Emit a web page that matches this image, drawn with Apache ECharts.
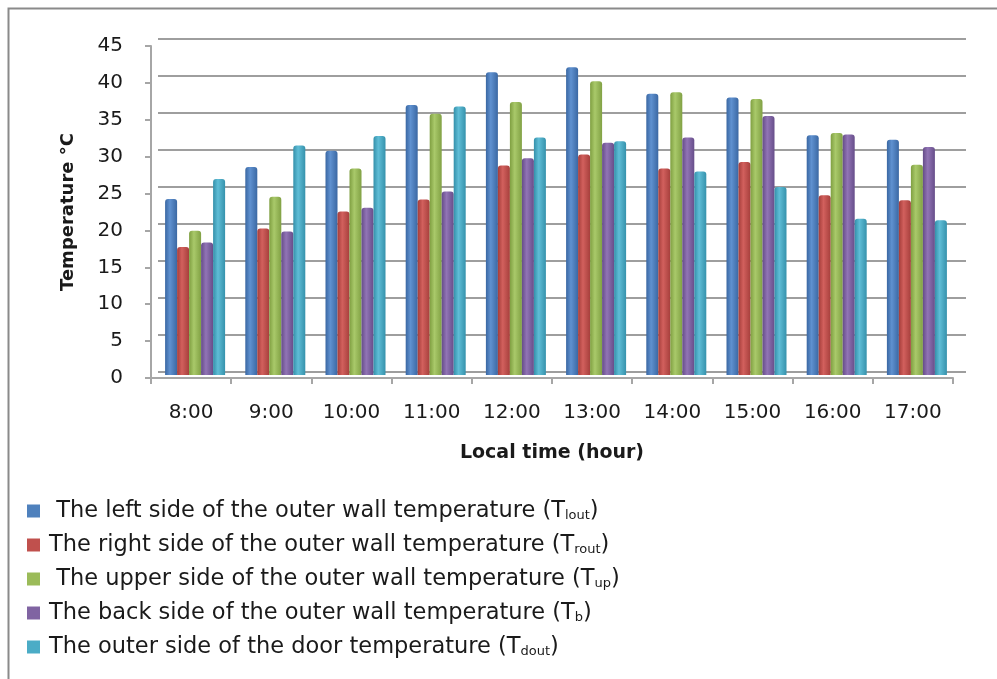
<!DOCTYPE html>
<html>
<head>
<meta charset="utf-8">
<script src="https://cdn.jsdelivr.net/npm/echarts@6/dist/echarts.min.js"></script>
<style>
  html, body { margin: 0; padding: 0; background: #fff; }
  #chart { width: 997px; height: 679px; }
</style>
</head>
<body>
<div id="chart"></div>
<script>
// ---- data ----
const categories = ['8:00', '9:00', '10:00', '11:00', '12:00', '13:00', '14:00', '15:00', '16:00', '17:00'];
const tLout = [23.8, 28.1, 30.3, 36.5, 40.9, 41.6, 38.0, 37.5, 32.4, 31.8];
const tRout = [17.3, 19.8, 22.1, 23.7, 28.3, 29.8, 27.9, 28.8, 24.3, 23.6];
const tUp   = [19.5, 24.1, 27.9, 35.3, 36.9, 39.7, 38.2, 37.3, 32.7, 28.4];
const tB    = [17.9, 19.4, 22.6, 24.8, 29.3, 31.4, 32.1, 35.0, 32.5, 30.8];
const tDout = [26.5, 31.0, 32.3, 36.3, 32.1, 31.6, 27.5, 25.4, 21.1, 20.9];
const seriesNames = ['Tlout', 'Trout', 'Tup', 'Tb', 'Tdout'];
const legendLabels = [
  ' The left side of the outer wall temperature (T{sub|lout})',
  'The right side of the outer wall temperature (T{sub|rout})',
  ' The upper side of the outer wall temperature (T{sub|up})',
  'The back side of the outer wall temperature (T{sub|b})',
  'The outer side of the door temperature (T{sub|dout})'
];
const yMin = 0, yMax = 45, yStep = 5;
const xTitle = 'Local time (hour)';
const yTitle = 'Temperature °C';

// ---- styling ----
const baseColors = ['#4F81BD', '#C0504D', '#9BBB59', '#8064A2', '#4BACC6'];
const shades = [
  ['#3a67a2', '#5f91d0', '#3b68a3'],
  ['#a53d3a', '#d2605d', '#a63f3c'],
  ['#7f9f41', '#a9c96a', '#81a144'],
  ['#654c88', '#9174b5', '#674e8a'],
  ['#3490aa', '#5fbdd6', '#3692ac']
];
function grad(i) {
  return new echarts.graphic.LinearGradient(0, 0, 1, 0, [
    { offset: 0, color: shades[i][0] },
    { offset: 0.4, color: shades[i][1] },
    { offset: 1, color: shades[i][2] }
  ]);
}
const dataSets = [tLout, tRout, tUp, tB, tDout];
const labelFont = 'DejaVu Sans';
const gridColor = '#9e9e9e';

const chart = echarts.init(document.getElementById('chart'), null, { renderer: 'canvas' });

const option = {
  backgroundColor: '#ffffff',
  animation: false,
  graphic: [{
    type: 'polyline',
    shape: { points: [[8.5, 679], [8.5, 8.5], [997, 8.5]] },
    style: { stroke: '#8a8a8a', lineWidth: 2, fill: null },
    z: -10
  }],
  legend: {
    orient: 'vertical',
    left: 22,
    top: 494,
    itemWidth: 13,
    itemHeight: 13,
    itemGap: 10,
    icon: 'rect',
    selectedMode: false,
    data: seriesNames.map((n, i) => ({ name: n, itemStyle: { color: baseColors[i] } })),
    formatter: function (name) { return legendLabels[seriesNames.indexOf(name)]; },
    textStyle: {
      fontFamily: labelFont,
      fontSize: 22.5,
      color: '#1a1a1a',
      lineHeight: 24,
      padding: [0, 0, 0, 4],
      rich: {
        sub: { fontFamily: labelFont, fontSize: 13, color: '#1a1a1a', padding: [9, 0, 0, 0] }
      }
    }
  },
  grid: [
    { left: 151, right: 44, top: 46, bottom: 301 },   // front axes
    { left: 158, right: 31, top: 39, bottom: 307 },   // back wall
    { left: 155, right: 40, top: 42, bottom: 304 }    // bars
  ],
  xAxis: [
    {
      gridIndex: 0, type: 'category', data: categories, boundaryGap: true,
      axisLine: { show: true, lineStyle: { color: '#a6a6a6', width: 2 } },
      axisTick: { show: true, interval: 0, length: 6, lineStyle: { color: '#a6a6a6', width: 2 } },
      axisLabel: { interval: 0, margin: 25, fontFamily: labelFont, fontSize: 20, color: '#1a1a1a' },
      name: xTitle, nameLocation: 'middle', nameGap: 66,
      nameTextStyle: { fontFamily: labelFont, fontSize: 19, fontWeight: 'bold', color: '#1a1a1a' },
      splitLine: { show: false }
    },
    {
      gridIndex: 1, type: 'category', data: categories, show: false
    },
    {
      gridIndex: 2, type: 'category', data: categories, show: false
    }
  ],
  yAxis: [
    {
      gridIndex: 0, type: 'value', min: yMin, max: yMax, interval: yStep,
      axisLine: { show: true, lineStyle: { color: '#a6a6a6', width: 2 } },
      axisTick: { show: true, length: 6, lineStyle: { color: '#a6a6a6', width: 2 } },
      axisLabel: { margin: 28, fontFamily: labelFont, fontSize: 20, color: '#1a1a1a' },
      splitLine: { show: false },
      name: yTitle, nameLocation: 'middle', nameGap: 74, nameRotate: 90,
      nameTextStyle: { fontFamily: labelFont, fontSize: 18, fontWeight: 'bold', color: '#1a1a1a' }
    },
    {
      gridIndex: 1, type: 'value', min: yMin, max: yMax, interval: yStep,
      axisLine: { show: false }, axisTick: { show: false }, axisLabel: { show: false },
      splitLine: { show: true, lineStyle: { color: gridColor, width: 2 } }
    },
    {
      gridIndex: 2, type: 'value', min: yMin, max: yMax, interval: yStep, show: false,
      splitLine: { show: false }
    }
  ],
  series: dataSets.map((d, i) => ({
    name: seriesNames[i],
    type: 'bar',
    xAxisIndex: 2,
    yAxisIndex: 2,
    data: d,
    barWidth: 12,
    barGap: '0%',
    itemStyle: { color: grad(i), borderRadius: [3, 3, 0, 0] },
    z: 5
  }))
};
chart.setOption(option);
</script>
</body>
</html>
